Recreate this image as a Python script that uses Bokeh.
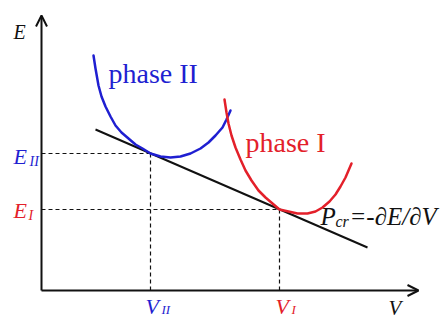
from bokeh.plotting import figure
from bokeh.models import Range1d, Arrow, OpenHead
from bokeh.core.properties import value
from bokeh.embed import file_html
from bokeh.resources import INLINE

# ---- data (V, E in axis units, origin at the axes corner) ----
V_II, E_II = 109, 137          # tangent point of phase II
V_I, E_I = 238, 81             # tangent point of phase I

phase2_V = [52, 54, 57, 60, 64, 69, 74, 80, 87, 94, 101, 109, 119, 129, 139, 149, 159, 167, 174, 181, 185, 189]
phase2_E = [235, 222, 205, 194, 184, 174, 165, 158, 152, 146, 142, 137, 134, 133, 134, 137, 142, 148, 155, 163, 171, 180]

phase1_V = [183, 185, 187, 190, 194, 199, 204, 210, 217, 224, 231, 238, 247, 256, 266, 274, 281, 288, 294, 299, 304, 307, 310]
phase1_E = [191, 178, 167, 155, 143, 131, 120, 110, 100, 93, 87, 81, 79, 77, 77, 79, 83, 89, 96, 104, 113, 120, 127]

tangent_V = [54, 326]
tangent_E = [161, 43]

BLUE = "#1f1fd1"
RED = "#e3202a"
BLACK = "#111111"
FONT = value("Liberation Serif")
SHIFT = -9   # baseline correction (px)

p = figure(width=445, height=320, x_range=Range1d(-41, 404), y_range=Range1d(-30, 290),
           x_axis_type=None, y_axis_type=None, toolbar_location=None,
           output_backend="svg", min_border=0)
p.grid.visible = False
p.outline_line_color = None
p.background_fill_color = "white"
p.border_fill_color = "white"

# dashed guides
p.segment(x0=[0, 0], y0=[E_II, E_I], x1=[V_II, V_I], y1=[E_II, E_I],
          line_color=BLACK, line_width=1.2, line_dash="4 3")
p.segment(x0=[V_II, V_I], y0=[E_II, E_I], x1=[V_II, V_I], y1=[0, 0],
          line_color=BLACK, line_width=1.2, line_dash="4 3")

# tangent line
p.line(tangent_V, tangent_E, line_color=BLACK, line_width=2)

# phase curves
p.line(phase2_V, phase2_E, line_color=BLUE, line_width=2.5, line_join="round", line_cap="round")
p.line(phase1_V, phase1_E, line_color=RED, line_width=2.5, line_join="round", line_cap="round")

# axes with arrows
p.add_layout(Arrow(end=OpenHead(size=11, line_width=2, line_color=BLACK),
                   x_start=0, y_start=0, x_end=0, y_end=275,
                   line_width=2, line_color=BLACK))
p.add_layout(Arrow(end=OpenHead(size=11, line_width=2, line_color=BLACK),
                   x_start=0, y_start=0, x_end=377, y_end=0,
                   line_width=2, line_color=BLACK))

def txt(x, y, s, color, size, style="italic", xo=0, yo=0):
    p.text(x=[x], y=[y], text=[s], text_color=color, text_font=FONT,
           text_font_size=size, text_font_style=style, text_align="left",
           text_baseline="alphabetic", x_offset=xo, y_offset=yo + SHIFT)

# axis names
txt(-28, 250, "E", BLACK, "20px")
txt(347, 0, "V", BLACK, "21px", yo=26)

# E ticks
txt(-28, E_II, "E", BLUE, "22px", yo=12)
txt(-12, E_II, "II", BLUE, "14px", yo=17)
txt(-28, E_I, "E", RED, "22px", yo=10)
txt(-13, E_I, "I", RED, "14px", yo=15)

# V ticks
txt(V_II, 0, "V", BLUE, "22px", xo=-5, yo=25)
txt(V_II, 0, "II", BLUE, "13px", xo=11, yo=28)
txt(V_I, 0, "V", RED, "22px", xo=-4, yo=25)
txt(V_I, 0, "I", RED, "13px", xo=12, yo=28)

# phase names
txt(67, 208, "phase II", BLUE, "28px", style="normal")
txt(204, 139, "phase I", RED, "28px", style="normal")

# pressure label
txt(279, 65, "P", BLACK, "25px")
txt(294, 60, "cr", BLACK, "16px")
txt(308, 65, "=-\u2202E/\u2202V", BLACK, "25px")

open("out.html", "w").write(file_html(p, INLINE))
